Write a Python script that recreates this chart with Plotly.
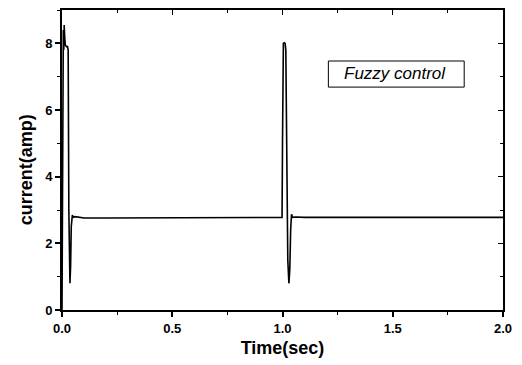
import plotly.graph_objects as go

# time (s) and current (A)
time_s = [0.000, 0.002, 0.004, 0.006, 0.008, 0.010, 0.012, 0.015, 0.020, 0.025,
          0.028, 0.031, 0.034, 0.036, 0.039, 0.042, 0.047, 0.052, 0.060, 0.080,
          0.100, 0.200, 0.300, 0.400, 0.500, 0.600, 0.700, 0.800, 0.900, 0.998,
          1.000, 1.002, 1.004, 1.008, 1.012, 1.015, 1.019, 1.024, 1.029, 1.033,
          1.037, 1.041, 1.046, 1.060, 1.100, 1.200, 1.400, 1.600, 1.800, 2.000]
current_a = [0.00, 4.50, 7.20, 8.40, 7.80, 8.55, 8.20, 7.95, 7.90, 7.90,
             7.80, 3.00, 1.10, 0.80, 1.30, 2.50, 2.85, 2.78, 2.80, 2.77,
             2.76, 2.76, 2.76, 2.76, 2.76, 2.77, 2.77, 2.77, 2.78, 2.78,
             5.00, 7.80, 8.00, 8.02, 8.00, 7.80, 4.00, 1.50, 0.80, 1.20,
             2.40, 2.87, 2.78, 2.79, 2.78, 2.78, 2.78, 2.78, 2.78, 2.78]

x_ticks = [0.0, 0.5, 1.0, 1.5, 2.0]
x_tick_labels = ["0.0", "0.5", "1.0", "1.5", "2.0"]
y_ticks = [0, 2, 4, 6, 8]
y_tick_labels = ["0", "2", "4", "6", "8"]
legend_text = "Fuzzy control"
x_title = "Time(sec)"
y_title = "current(amp)"

FONT = "Liberation Sans, Arial, sans-serif"

fig = go.Figure()
fig.add_trace(go.Scatter(x=time_s, y=current_a, mode="lines",
                         line=dict(color="black", width=1.6),
                         showlegend=False, hoverinfo="skip"))
# invisible trace to anchor the mirrored (top/right) axes
fig.add_trace(go.Scatter(x=[time_s[0]], y=[current_a[0]], xaxis="x2", yaxis="y2",
                         mode="markers", marker=dict(opacity=0),
                         showlegend=False, hoverinfo="skip"))

axis_common = dict(showgrid=False, zeroline=False, showline=True,
                   linecolor="black", linewidth=1.8,
                   ticks="outside", ticklen=5, tickwidth=1.5, tickcolor="black")

fig.update_layout(
    width=522, height=365,
    margin=dict(l=62, r=16, t=10, b=55),
    paper_bgcolor="white", plot_bgcolor="white",
    font=dict(family=FONT, color="black"),
    xaxis=dict(range=[0, 2], tickvals=x_ticks, ticktext=x_tick_labels,
               tickfont=dict(size=13, family=FONT, weight="bold"),
               title=dict(text="<b>" + x_title + "</b>", font=dict(size=18), standoff=7),
               minor=dict(dtick=0.25, ticks="outside", ticklen=3, tickwidth=1.2,
                          tickcolor="black"),
               **axis_common),
    yaxis=dict(range=[0, 9], tickvals=y_ticks, ticktext=y_tick_labels,
               tickfont=dict(size=13, family=FONT, weight="bold"),
               minor=dict(dtick=1, ticks="outside", ticklen=3, tickwidth=1.2,
                          tickcolor="black"),
               **axis_common),
    xaxis2=dict(range=[0, 2], overlaying="x", side="top", anchor="y2",
                tickvals=x_ticks, showticklabels=False, showgrid=False, zeroline=False,
                showline=True, linecolor="black", linewidth=1.8,
                ticks="inside", ticklen=5, tickwidth=1.2, tickcolor="black",
                minor=dict(dtick=0.25, ticks="inside", ticklen=3, tickwidth=1,
                           tickcolor="black")),
    yaxis2=dict(range=[0, 9], overlaying="y", side="right", anchor="x2",
                tickvals=y_ticks, showticklabels=False, showgrid=False, zeroline=False,
                showline=True, linecolor="black", linewidth=1.8,
                ticks="inside", ticklen=5, tickwidth=1.2, tickcolor="black",
                minor=dict(dtick=1, ticks="inside", ticklen=3, tickwidth=1,
                           tickcolor="black")),
)

# y-axis title placed as annotation (slightly below centre, as in the reference)
fig.add_annotation(xref="paper", yref="paper", x=-0.081, y=0.467,
                   text="<b>" + y_title + "</b>", textangle=-90, showarrow=False,
                   font=dict(size=18, family=FONT, color="black"),
                   xanchor="center", yanchor="middle")

fig.add_shape(type="rect", xref="paper", yref="paper",
              x0=0.604, x1=0.912, y0=0.743, y1=0.830,
              line=dict(color="black", width=1), fillcolor="white", layer="above")
fig.add_annotation(xref="paper", yref="paper", x=0.7545, y=0.787,
                   text="<i>" + legend_text + "</i>", showarrow=False,
                   font=dict(size=17, family=FONT, color="black"),
                   xanchor="center", yanchor="middle")

fig.write_html("out.html")
